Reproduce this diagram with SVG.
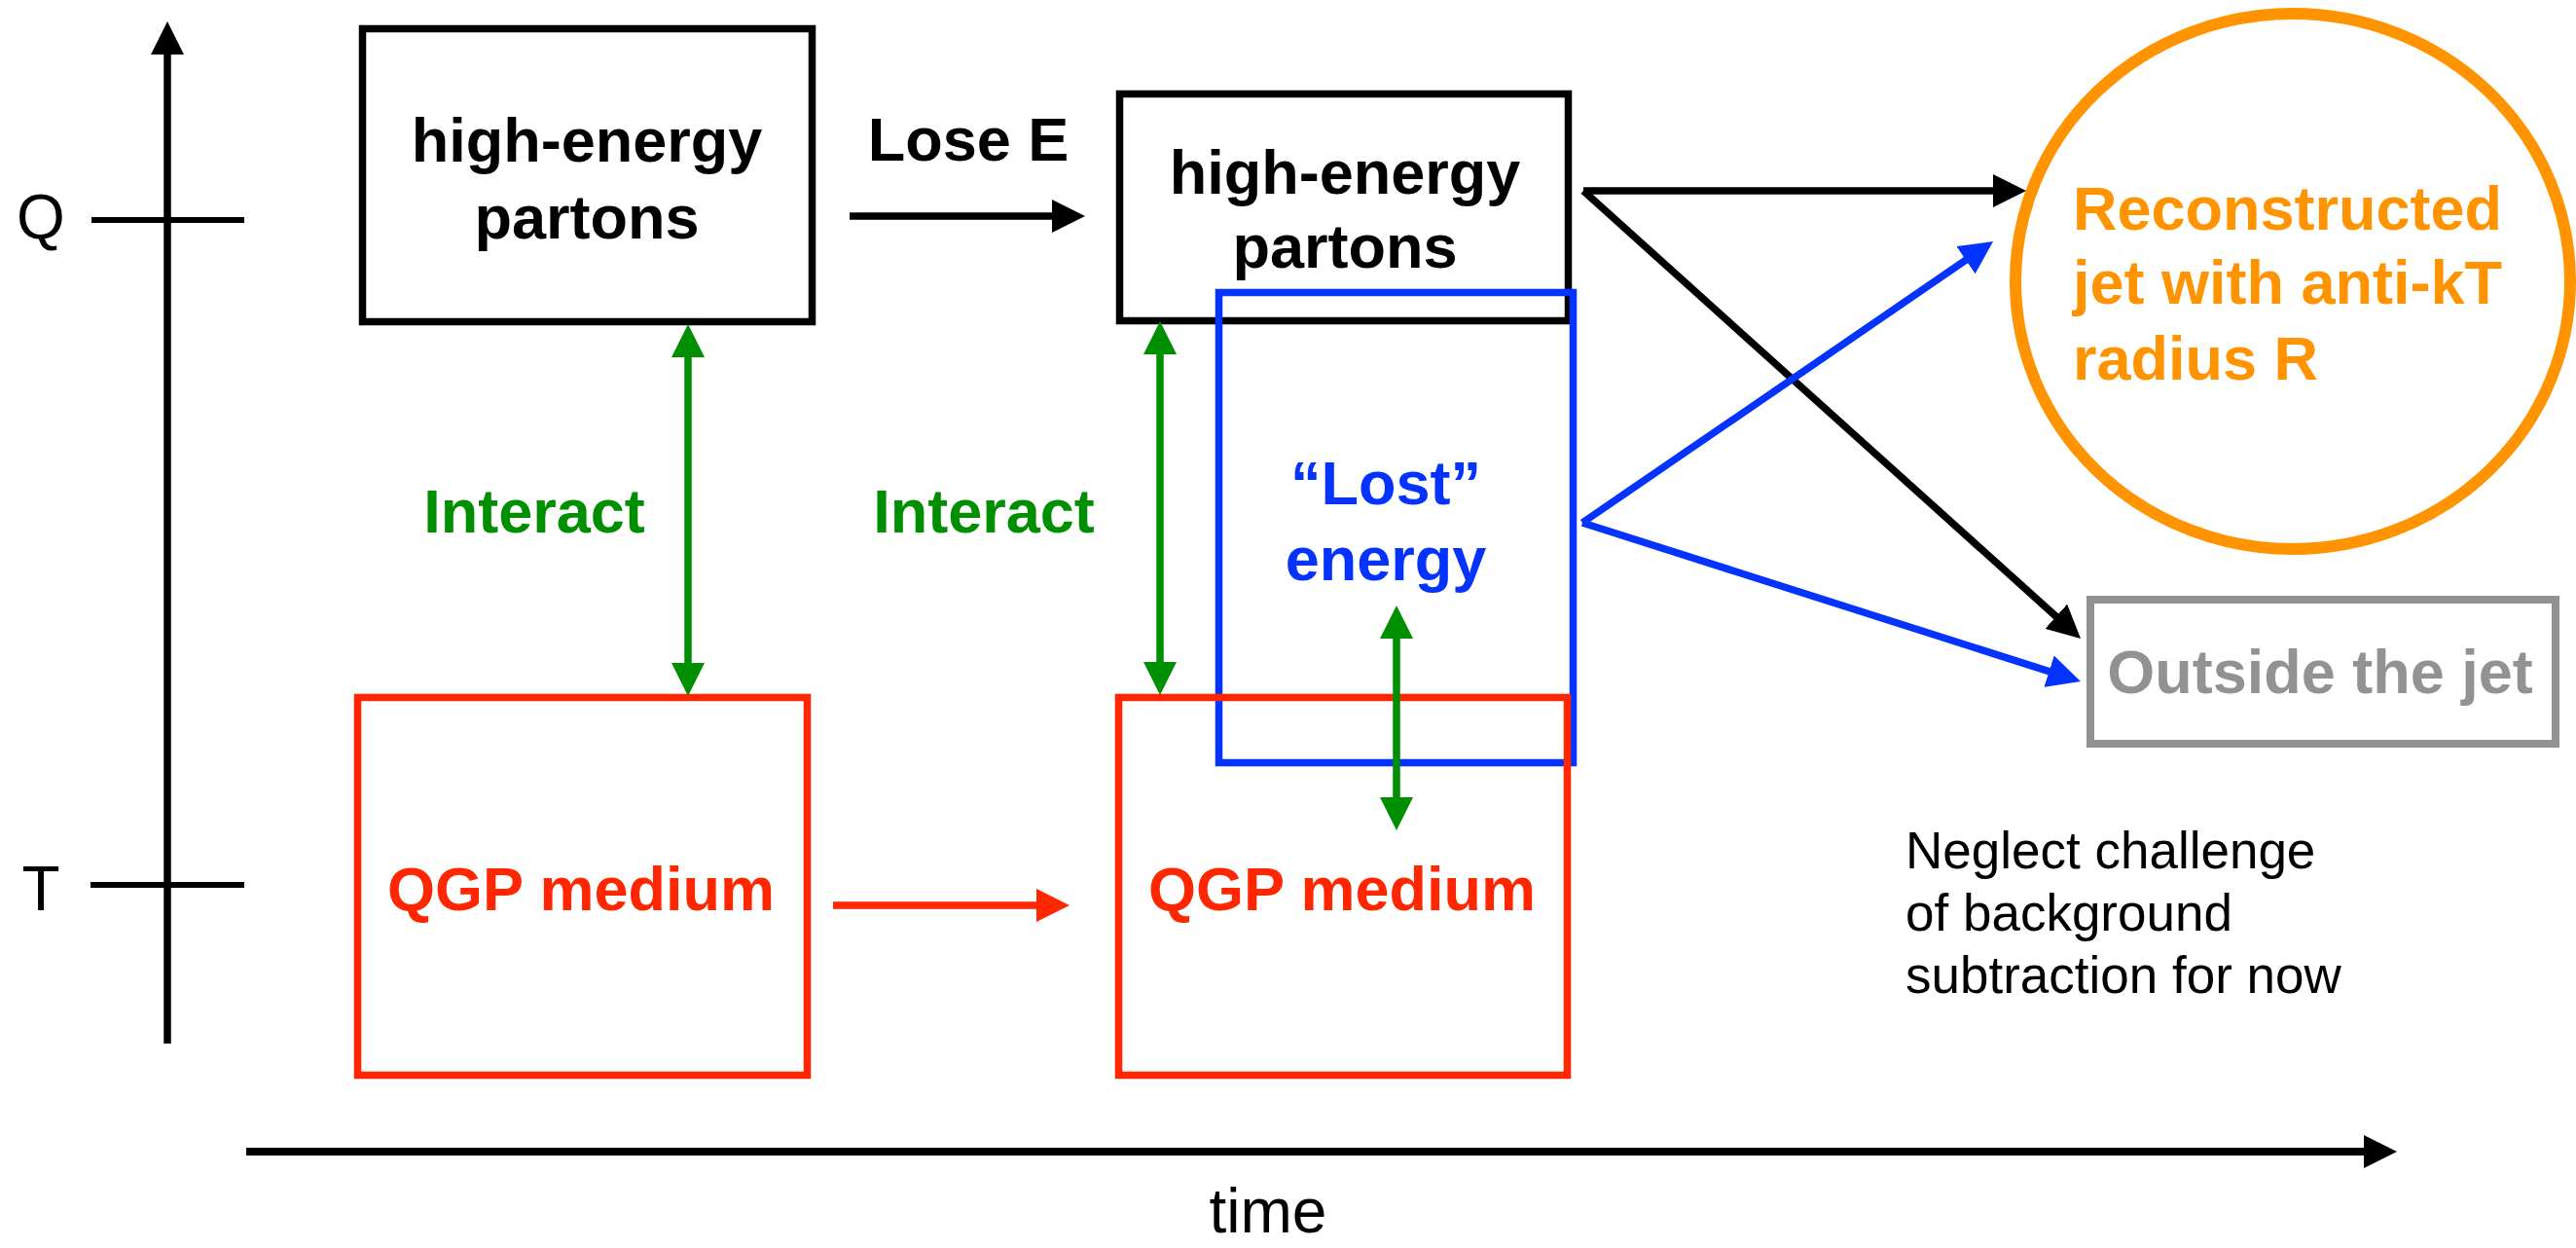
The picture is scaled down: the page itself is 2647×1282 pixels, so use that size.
<svg xmlns="http://www.w3.org/2000/svg" width="2647" height="1282" viewBox="0 0 2647 1282">
  <style>
    text { font-family: "Liberation Sans", Arial, Helvetica, sans-serif; }
    .b { font-weight: bold; font-size: 63px; }
    .r { font-weight: normal; }
    .box { fill: none; stroke-width: 7.5; }
    .ln { fill: none; stroke-width: 7.5; stroke-linecap: butt; }
  </style>
  <defs>
    <marker id="ah-k" markerUnits="userSpaceOnUse" viewBox="0 0 34 34" markerWidth="34" markerHeight="34" refX="8" refY="17" orient="auto-start-reverse">
      <path d="M0,0 L34,17 L0,34 Z" fill="#000000"/>
    </marker>
    <marker id="ah-g" markerUnits="userSpaceOnUse" viewBox="0 0 34 34" markerWidth="34" markerHeight="34" refX="8" refY="17" orient="auto-start-reverse">
      <path d="M0,0 L34,17 L0,34 Z" fill="#008F00"/>
    </marker>
    <marker id="ah-r" markerUnits="userSpaceOnUse" viewBox="0 0 34 34" markerWidth="34" markerHeight="34" refX="8" refY="17" orient="auto-start-reverse">
      <path d="M0,0 L34,17 L0,34 Z" fill="#FF2600"/>
    </marker>
    <marker id="ah-b" markerUnits="userSpaceOnUse" viewBox="0 0 34 34" markerWidth="34" markerHeight="34" refX="8" refY="17" orient="auto-start-reverse">
      <path d="M0,0 L34,17 L0,34 Z" fill="#0433FF"/>
    </marker>
  </defs>
  <rect width="2647" height="1282" fill="#ffffff"/>

  <g id="axes">
    <line x1="172" y1="1072" x2="172" y2="48" stroke="#000" stroke-width="7.5" marker-end="url(#ah-k)"/>
    <line x1="94" y1="226" x2="251" y2="226" stroke="#000" stroke-width="6"/>
    <line x1="93" y1="909" x2="251" y2="909" stroke="#000" stroke-width="6"/>
    <line x1="253" y1="1183" x2="2437" y2="1183" stroke="#000" stroke-width="8" marker-end="url(#ah-k)"/>
    <text x="42" y="245" font-size="64" text-anchor="middle" class="r">Q</text>
    <text x="42" y="935" font-size="64" text-anchor="middle" class="r">T</text>
    <text x="1303" y="1266" font-size="64" text-anchor="middle" class="r">time</text>
  </g>

  <g id="partons1">
    <rect class="box" x="372.5" y="29.5" width="462" height="301" stroke="#000"/>
    <text class="b" x="603" y="166" text-anchor="middle">high-energy</text>
    <text class="b" x="603" y="245" text-anchor="middle">partons</text>
  </g>

  <g id="partons2">
    <rect class="box" x="1150.5" y="96.5" width="461" height="233" stroke="#000"/>
    <text class="b" x="1382" y="199" text-anchor="middle">high-energy</text>
    <text class="b" x="1382" y="275" text-anchor="middle">partons</text>
  </g>

  <g id="lost-energy">
    <rect class="box" x="1252.5" y="300.5" width="364" height="483" stroke="#0433FF"/>
    <text class="b" x="1424" y="518" text-anchor="middle" fill="#0433FF">“Lost”</text>
    <text class="b" x="1424" y="596" text-anchor="middle" fill="#0433FF">energy</text>
  </g>

  <g id="qgp1">
    <rect class="box" x="367.5" y="716.5" width="462" height="388" stroke="#FF2600"/>
    <text class="b" x="597" y="935" text-anchor="middle" fill="#FF2600">QGP medium</text>
  </g>

  <g id="qgp2">
    <rect class="box" x="1149.5" y="716.5" width="461" height="388" stroke="#FF2600"/>
    <text class="b" x="1379" y="935" text-anchor="middle" fill="#FF2600">QGP medium</text>
  </g>

  <g id="jet">
    <ellipse cx="2356" cy="289" rx="285" ry="275" fill="none" stroke="#FF9300" stroke-width="12"/>
    <text class="b" x="2130" y="236" fill="#FF9300">Reconstructed</text>
    <text class="b" x="2130" y="312" fill="#FF9300">jet with anti-kT</text>
    <text class="b" x="2130" y="390" fill="#FF9300">radius R</text>
  </g>

  <g id="outside">
    <rect x="2148" y="616" width="478" height="148" fill="none" stroke="#929292" stroke-width="8"/>
    <text class="b" x="2384" y="712" text-anchor="middle" fill="#929292">Outside the jet</text>
  </g>

  <g id="note">
    <text x="1958" y="892" font-size="53" class="r">Neglect challenge</text>
    <text x="1958" y="956" font-size="53" class="r">of background</text>
    <text x="1958" y="1020" font-size="53" class="r">subtraction for now</text>
  </g>

  <g id="labels">
    <text class="b" x="995" y="165" text-anchor="middle">Lose E</text>
    <text class="b" x="549" y="547" text-anchor="middle" fill="#008F00">Interact</text>
    <text class="b" x="1011" y="547" text-anchor="middle" fill="#008F00">Interact</text>
  </g>

  <g id="connectors">
    <line class="ln" x1="873" y1="222" x2="1089" y2="222" stroke="#000" marker-end="url(#ah-k)"/>
    <line class="ln" x1="856" y1="930" x2="1073" y2="930" stroke="#FF2600" marker-end="url(#ah-r)"/>
    <line class="ln" x1="707" y1="359" x2="707" y2="689" stroke="#008F00" marker-start="url(#ah-g)" marker-end="url(#ah-g)"/>
    <line class="ln" x1="1192" y1="356" x2="1192" y2="688" stroke="#008F00" marker-start="url(#ah-g)" marker-end="url(#ah-g)"/>
    <line class="ln" x1="1435" y1="648" x2="1435" y2="827" stroke="#008F00" marker-start="url(#ah-g)" marker-end="url(#ah-g)"/>
    <line class="ln" x1="1627" y1="196" x2="2056" y2="196" stroke="#000" marker-end="url(#ah-k)"/>
    <line class="ln" x1="1627" y1="196" x2="2118.7" y2="638.6" stroke="#000" marker-end="url(#ah-k)"/>
    <line class="ln" x1="1626" y1="537" x2="2026.6" y2="262.7" stroke="#0433FF" stroke-width="6.5" marker-end="url(#ah-b)"/>
    <line class="ln" x1="1626" y1="537" x2="2113.2" y2="692.1" stroke="#0433FF" stroke-width="6.5" marker-end="url(#ah-b)"/>
  </g>
</svg>
